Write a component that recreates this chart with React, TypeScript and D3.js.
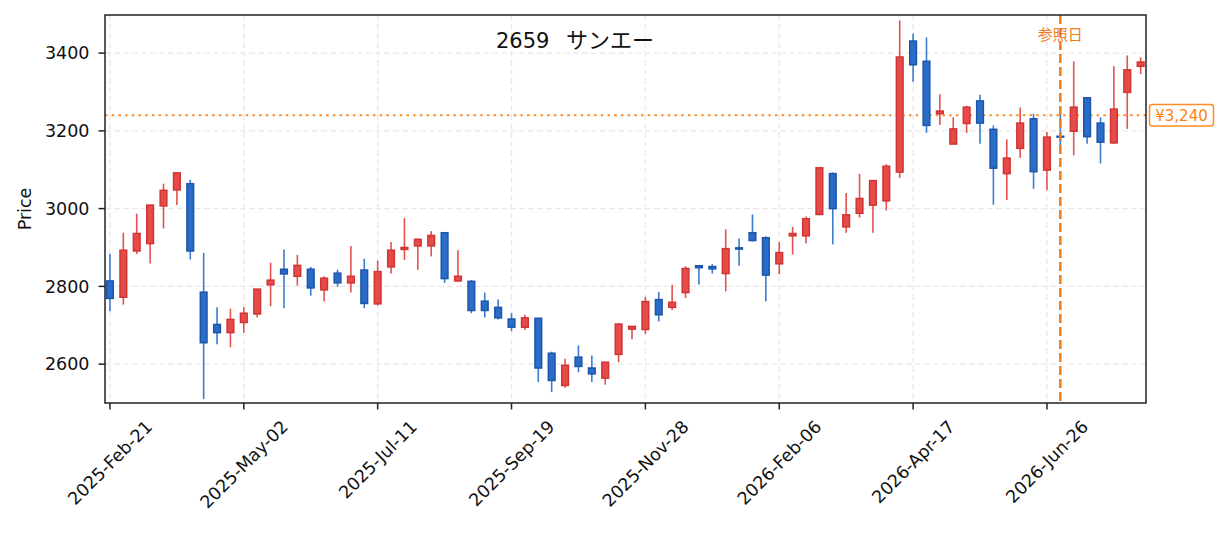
import * as d3 from "d3";

// weekly candles, first week ending 2025-02-21
const startDate = new Date(2025, 1, 21);

const opens = [
  2814, 2772, 2891, 2910, 3007, 3048, 3064, 2785, 2702, 2681,
  2707, 2729, 2804, 2844, 2826, 2844, 2791, 2834, 2809, 2842,
  2755, 2850, 2895, 2904, 2904, 2938, 2814, 2813, 2762, 2746,
  2716, 2695, 2718, 2628, 2545, 2618, 2590, 2564, 2625, 2690,
  2689, 2766, 2746, 2784, 2853, 2851, 2833, 2899, 2938, 2925,
  2858, 2930, 2930, 2985, 3090, 2953, 2988, 3009, 3020, 3094,
  3431, 3379, 3244, 3166, 3219, 3277, 3204, 3090, 3155, 3231,
  3099, 3186, 3199, 3285, 3220, 3169, 3299, 3366,
];
const highs = [
  2883, 2938, 2987, 3009, 3064, 3092, 3074, 2886, 2746, 2743,
  2746, 2793, 2861, 2895, 2881, 2850, 2826, 2843, 2904, 2871,
  2866, 2914, 2976, 2923, 2942, 2938, 2893, 2816, 2784, 2766,
  2731, 2727, 2718, 2632, 2614, 2648, 2622, 2605, 2705, 2697,
  2773, 2786, 2804, 2852, 2853, 2857, 2947, 2923, 2985, 2929,
  2914, 2953, 2980, 3105, 3093, 3040, 3089, 3072, 3114, 3484,
  3450, 3440, 3294, 3235, 3265, 3293, 3214, 3178, 3260, 3244,
  3197, 3255, 3379, 3285, 3235, 3366, 3394, 3389,
];
const lows = [
  2736, 2753, 2883, 2859, 2949, 3009, 2869, 2510, 2651, 2643,
  2681, 2720, 2749, 2744, 2802, 2776, 2761, 2799, 2784, 2744,
  2751, 2833, 2868, 2843, 2877, 2809, 2812, 2731, 2720, 2715,
  2685, 2688, 2554, 2528, 2539, 2579, 2554, 2547, 2605, 2664,
  2678, 2710, 2739, 2770, 2804, 2833, 2787, 2853, 2915, 2761,
  2831, 2882, 2910, 2983, 2908, 2938, 2977, 2938, 2995, 3079,
  3326, 3195, 3215, 3166, 3195, 3167, 3010, 3022, 3131, 3051,
  3047, 3146, 3137, 3167, 3116, 3167, 3205, 3346,
];
const closes = [
  2769, 2893, 2936, 3009, 3047, 3092, 2891, 2655, 2681, 2715,
  2731, 2793, 2816, 2832, 2854, 2796, 2821, 2809, 2826, 2756,
  2838, 2893, 2900, 2921, 2931, 2820, 2826, 2738, 2738, 2719,
  2695, 2719, 2590, 2558, 2597, 2594, 2575, 2605, 2703, 2697,
  2761, 2727, 2759, 2846, 2848, 2845, 2897, 2896, 2918, 2829,
  2887, 2936, 2974, 3105, 3000, 2984, 3026, 3072, 3109, 3390,
  3370, 3214, 3251, 3205, 3261, 3220, 3104, 3130, 3220, 3095,
  3184, 3184, 3261, 3185, 3171, 3256, 3357, 3377,
];

const xTickIndex = [0, 10, 20, 30, 40, 50, 60, 70];
const xTickLabels = [
  "2025-Feb-21", "2025-May-02", "2025-Jul-11", "2025-Sep-19",
  "2025-Nov-28", "2026-Feb-06", "2026-Apr-17", "2026-Jun-26",
];
const yTicks = [2600, 2800, 3000, 3200, 3400];

const titleCode = "2659";
const titleName = "サンエー";
const refIndex = 71;
const refLabel = "参照日";
const refPrice = 3240;

const FONT = "'DejaVu Sans', 'Noto Sans CJK JP', sans-serif";
const TICK_SIZE = 17.5;

let ctx: CanvasRenderingContext2D | null = null;
function textWidth(s: string, size: number) {
  if (!ctx) ctx = document.createElement("canvas").getContext("2d");
  if (!ctx) return s.length * size * 0.6;
  ctx.font = `${size}px 'DejaVu Sans'`;
  return ctx.measureText(s).width;
}

export default function App() {
  const width = 1225;
  const height = 533;
  const plot = { left: 105, right: 1146, top: 15, bottom: 403 };

  const x = d3.scaleLinear().domain([-0.37, 77.4]).range([plot.left, plot.right]);
  const y = d3.scaleLinear().domain([2500, 3498]).range([plot.bottom, plot.top]);
  const step = x(1) - x(0);
  const bodyW = step * 0.5;

  const dates = opens.map((_, i) => d3.timeWeek.offset(startDate, i));
  const fmtPrice = d3.format(",");

  return (
    <svg
      width={width}
      height={height}
      style={{ position: "absolute", left: 0, top: 0, background: "#fff" }}
      fontFamily={FONT}
    >
      <rect x={0} y={0} width={width} height={height} fill="#fff" />

      {/* grid */}
      {yTicks.map((t) => (
        <line
          key={`gy-${t}`}
          x1={plot.left}
          x2={plot.right}
          y1={y(t)}
          y2={y(t)}
          stroke="#e9e9e9"
          strokeWidth={1.3}
          strokeDasharray="6 3"
        />
      ))}
      {xTickIndex.map((t) => (
        <line
          key={`gx-${t}`}
          x1={x(t)}
          x2={x(t)}
          y1={plot.top}
          y2={plot.bottom}
          stroke="#e9e9e9"
          strokeWidth={1.3}
          strokeDasharray="6 3"
        />
      ))}

      {/* reference price */}
      <line
        x1={plot.left}
        x2={plot.right}
        y1={y(refPrice)}
        y2={y(refPrice)}
        stroke="#ff8a26"
        strokeWidth={2}
        strokeDasharray="2.5 4.2"
      />

      {/* candles */}
      {dates.map((d, i) => {
        const up = closes[i] >= opens[i];
        const cx = x(i);
        const top = y(Math.max(opens[i], closes[i]));
        const bot = y(Math.min(opens[i], closes[i]));
        return (
          <g key={+d}>
            <line
              x1={cx}
              x2={cx}
              y1={y(highs[i])}
              y2={y(lows[i])}
              stroke={up ? "#e5514f" : "#3a7dd0"}
              strokeWidth={1.6}
            />
            <rect
              x={cx - bodyW / 2}
              y={top}
              width={bodyW}
              height={Math.max(0.8, bot - top)}
              fill={up ? "#e84a4a" : "#2a6dc8"}
              stroke={up ? "#cf3535" : "#1d55aa"}
              strokeWidth={1.5}
            />
          </g>
        );
      })}

      {/* reference date */}
      <line
        x1={x(refIndex)}
        x2={x(refIndex)}
        y1={plot.top}
        y2={plot.bottom}
        stroke="#f07d1c"
        strokeWidth={2.5}
        strokeDasharray="9 4"
      />
      <text
        x={x(refIndex)}
        y={40}
        textAnchor="middle"
        fontSize={15}
        fill="#f07d1c"
        fontFamily="'Noto Sans CJK JP', sans-serif"
      >
        {refLabel}
      </text>

      {/* frame */}
      <rect
        x={plot.left}
        y={plot.top}
        width={plot.right - plot.left}
        height={plot.bottom - plot.top}
        fill="none"
        stroke="#222"
        strokeWidth={1.5}
      />

      {/* y axis */}
      {yTicks.map((t) => (
        <g key={`yt-${t}`}>
          <line x1={plot.left - 6.5} x2={plot.left} y1={y(t)} y2={y(t)} stroke="#222" strokeWidth={1.5} />
          <text
            x={plot.left - 15.5}
            y={y(t)}
            dy="0.36em"
            textAnchor="end"
            fontSize={TICK_SIZE}
            fill="#111"
          >
            {t}
          </text>
        </g>
      ))}
      <text
        transform={`translate(25,${(plot.top + plot.bottom) / 2}) rotate(-90)`}
        textAnchor="middle"
        dy="0.36em"
        fontSize={TICK_SIZE}
        fill="#111"
      >
        Price
      </text>

      {/* x axis */}
      {xTickIndex.map((t, k) => {
        const tx = x(t);
        const label = xTickLabels[k];
        const w = textWidth(label, TICK_SIZE);
        const cy = 419 + ((w + TICK_SIZE * 0.73) * Math.SQRT1_2) / 2;
        return (
          <g key={`xt-${t}`}>
            <line x1={tx} x2={tx} y1={plot.bottom} y2={plot.bottom + 6.5} stroke="#222" strokeWidth={1.5} />
            <text
              x={tx}
              y={cy}
              dy="0.36em"
              textAnchor="middle"
              fontSize={TICK_SIZE}
              fill="#111"
              transform={`rotate(-45 ${tx} ${cy})`}
            >
              {label}
            </text>
          </g>
        );
      })}

      {/* title */}
      <text x={496} y={48} fontSize={21} fill="#111">
        {titleCode}
      </text>
      <text
        x={566}
        y={48}
        fontSize={22}
        fill="#111"
        fontFamily="'Noto Sans CJK JP', sans-serif"
      >
        {titleName}
      </text>

      {/* price tag */}
      <rect
        x={1149.5}
        y={y(refPrice) - 10.8}
        width={64}
        height={21.5}
        rx={3}
        fill="#fff"
        stroke="#ff8a26"
        strokeWidth={1.5}
      />
      <text
        x={1181.5}
        y={y(refPrice)}
        dy="0.36em"
        textAnchor="middle"
        fontSize={15}
        fill="#ff7f0e"
      >
        ¥{fmtPrice(refPrice)}
      </text>
    </svg>
  );
}
